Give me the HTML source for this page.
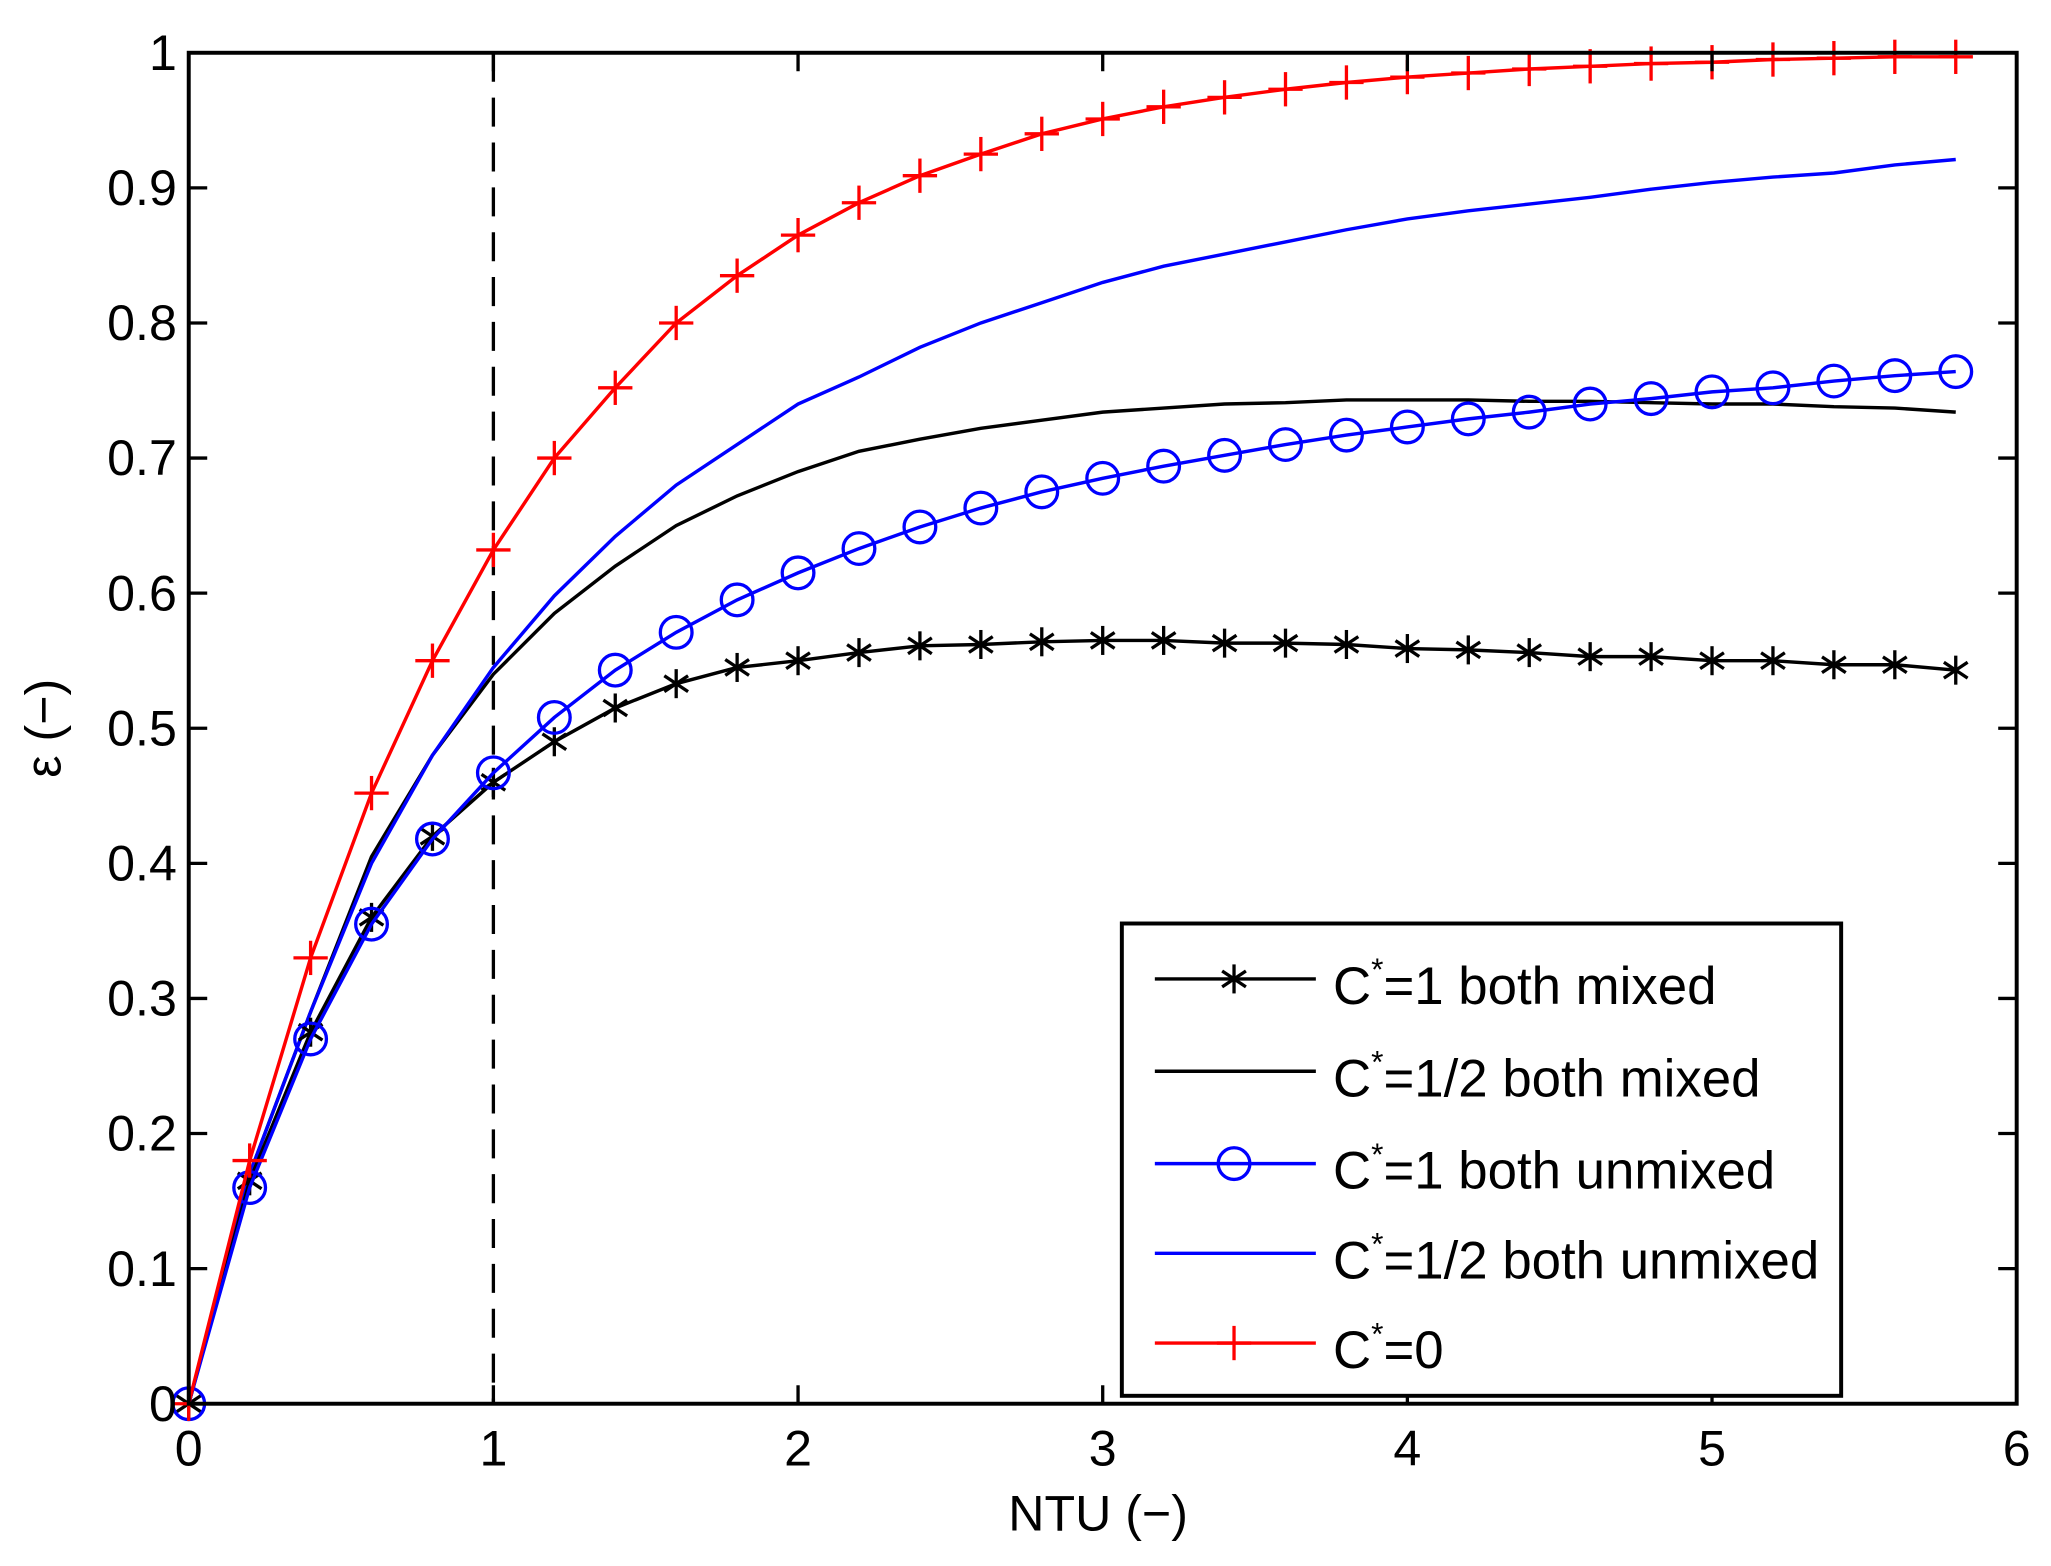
<!DOCTYPE html>
<html><head><meta charset="utf-8"><style>
html,body{margin:0;padding:0;background:#fff;}
svg{display:block;}
text{font-family:"Liberation Sans",Arial,sans-serif;fill:#000;}
</style></head><body>
<svg id="chart" width="2051" height="1566" viewBox="0 0 1554 1187" preserveAspectRatio="none" xmlns="http://www.w3.org/2000/svg">
<rect x="0" y="0" width="1554" height="1187" fill="#fff"/>
<g id="plot"></g>
</svg>
<script>
const ntu = [0,0.2,0.4,0.6,0.8,1.0,1.2,1.4,1.6,1.8,2.0,2.2,2.4,2.6,2.8,3.0,3.2,3.4,3.6,3.8,4.0,4.2,4.4,4.6,4.8,5.0,5.2,5.4,5.6,5.8];
const bothMixed1 = [0,0.165,0.275,0.36,0.42,0.46,0.49,0.515,0.533,0.545,0.55,0.556,0.561,0.562,0.564,0.565,0.565,0.563,0.563,0.562,0.559,0.558,0.556,0.553,0.553,0.55,0.55,0.547,0.547,0.543];
const bothMixedHalf = [0,0.17,0.29,0.405,0.48,0.54,0.585,0.62,0.65,0.672,0.69,0.705,0.714,0.722,0.728,0.734,0.737,0.74,0.741,0.743,0.743,0.743,0.742,0.742,0.741,0.74,0.74,0.738,0.737,0.734];
const bothUnmixed1 = [0,0.16,0.27,0.355,0.418,0.467,0.508,0.543,0.571,0.595,0.615,0.633,0.649,0.663,0.675,0.685,0.694,0.702,0.71,0.717,0.723,0.729,0.734,0.74,0.744,0.749,0.752,0.757,0.761,0.764];
const bothUnmixedHalf = [0,0.17,0.29,0.4,0.48,0.545,0.598,0.642,0.68,0.71,0.74,0.76,0.782,0.8,0.815,0.83,0.842,0.851,0.86,0.869,0.877,0.883,0.888,0.893,0.899,0.904,0.908,0.911,0.917,0.921];
const cZero = [0,0.18,0.33,0.452,0.55,0.632,0.70,0.752,0.80,0.835,0.865,0.889,0.909,0.925,0.94,0.951,0.96,0.967,0.973,0.978,0.982,0.985,0.988,0.99,0.992,0.993,0.995,0.996,0.997,0.997];
const xTicks = [0,1,2,3,4,5,6];
const yTicks = [0,0.1,0.2,0.3,0.4,0.5,0.6,0.7,0.8,0.9,1];
const yTickLabels = ["0","0.1","0.2","0.3","0.4","0.5","0.6","0.7","0.8","0.9","1"];
const legendLabels = ["1 both mixed","1/2 both mixed","1 both unmixed","1/2 both unmixed","0"];

const L=143,R=1528,T=40,B=1064;
const xs=v=>L+(v-0)/6*(R-L);
const ys=v=>B-(v-0)/1*(B-T);
const NS="http://www.w3.org/2000/svg";
const g=document.getElementById('plot');
function mk(tag,attrs,parent){const e=document.createElementNS(NS,tag);for(const k in attrs)e.setAttribute(k,attrs[k]);(parent||g).appendChild(e);return e;}

let dl=mk('line',{x1:xs(1),y1:T,x2:xs(1),y2:B,stroke:'#000','stroke-width':2.5,'stroke-dasharray':'22 12'});



function marker(type,cx,cy,color,parent){
  const grp=mk('g',{},parent);
  if(type==='star'){
    mk('line',{x1:cx,y1:cy-11,x2:cx,y2:cy+11,stroke:color,'stroke-width':2.5},grp);
    mk('line',{x1:cx-9,y1:cy-6,x2:cx+9,y2:cy+6,stroke:color,'stroke-width':2.5},grp);
    mk('line',{x1:cx-9,y1:cy+6,x2:cx+9,y2:cy-6,stroke:color,'stroke-width':2.5},grp);
  }else if(type==='circle'){
    mk('circle',{cx:cx,cy:cy,r:12,fill:'none',stroke:color,'stroke-width':2.5},grp);
  }else if(type==='plus'){
    mk('line',{x1:cx,y1:cy-13,x2:cx,y2:cy+13,stroke:color,'stroke-width':2.5},grp);
    mk('line',{x1:cx-13,y1:cy,x2:cx+13,y2:cy,stroke:color,'stroke-width':2.5},grp);
  }
  return grp;
}
function series(vals,color,type,name){
  const sg=mk('g',{});
  
  
  const pts=ntu.map((x,i)=>xs(x)+','+ys(vals[i])).join(' ');
  mk('polyline',{points:pts,fill:'none',stroke:color,'stroke-width':2.6},sg);
  if(type){ntu.forEach((x,i)=>{const m=marker(type,xs(x),ys(vals[i]),color,sg);
    
    });}
}
series(bothMixedHalf,'#000',null,'series-half-both-mixed');
series(bothUnmixedHalf,'#0000ff',null,'series-half-both-unmixed');
series(bothMixed1,'#000','star','series-1-both-mixed');
series(bothUnmixed1,'#0000ff','circle','series-1-both-unmixed');
series(cZero,'#ff0000','plus','series-c-zero');

let box=mk('rect',{x:L,y:T,width:R-L,height:B-T,fill:'none',stroke:'#000','stroke-width':3});


xTicks.forEach(t=>{
  mk('line',{x1:xs(t),y1:B,x2:xs(t),y2:B-14,stroke:'#000','stroke-width':2.5});
  mk('line',{x1:xs(t),y1:T,x2:xs(t),y2:T+14,stroke:'#000','stroke-width':2.5});
  const tx=mk('text',{x:xs(t),y:B+47,'font-size':38,'text-anchor':'middle'});tx.textContent=t;
  
  
});
yTicks.forEach((t,i)=>{
  mk('line',{x1:L,y1:ys(t),x2:L+14,y2:ys(t),stroke:'#000','stroke-width':2.5});
  mk('line',{x1:R,y1:ys(t),x2:R-14,y2:ys(t),stroke:'#000','stroke-width':2.5});
  const tx=mk('text',{x:L-9,y:ys(t)+13,'font-size':38,'text-anchor':'end'});tx.textContent=yTickLabels[i];
  
  
});
let xl=mk('text',{x:832,y:1160,'font-size':38,'text-anchor':'middle'});xl.textContent='NTU (\u2212)';


let yl=mk('text',{x:0,y:0,'font-size':38,'text-anchor':'middle',transform:'translate(46,552) rotate(-90)'});yl.textContent='\u03b5 (\u2212)';



const lg=mk('g',{});


mk('rect',{x:850,y:700,width:545,height:358,fill:'#fff',stroke:'#000','stroke-width':3},lg);
const lcol=['#000','#000','#0000ff','#0000ff','#ff0000'];
const ltype=['star',null,'circle',null,'plus'];
const ly=[748,818,888,956,1024];
legendLabels.forEach((lab,i)=>{
  const e=mk('g',{},lg);
  
  
  mk('line',{x1:875,y1:ly[i]-6,x2:997,y2:ly[i]-6,stroke:lcol[i],'stroke-width':2.6},e);
  if(ltype[i])marker(ltype[i],935,ly[i]-6,lcol[i],e);
  const t=mk('text',{x:1010,y:ly[i]+13,'font-size':40},e);
  t.innerHTML='C<tspan dy="-18" font-size="24">*</tspan><tspan dy="18">='+lab+'</tspan>';
});
</script>
</body></html>
